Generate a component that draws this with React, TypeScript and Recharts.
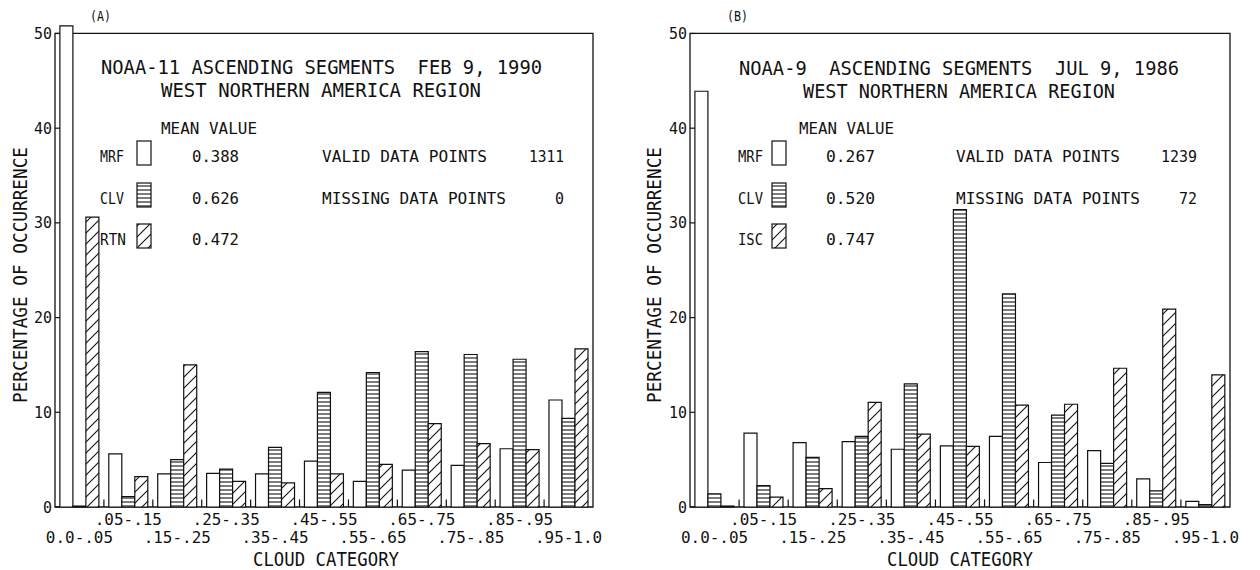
import React from "react";
import { BarChart, Bar, XAxis, YAxis, ReferenceArea } from "recharts";

const categories = [
  "0.0-.05", ".05-.15", ".15-.25", ".25-.35", ".35-.45", ".45-.55",
  ".55-.65", ".65-.75", ".75-.85", ".85-.95", ".95-1.0",
];
const yTicks = [0, 10, 20, 30, 40, 50];

// Panel (A) NOAA-11, FEB 9 1990
const aMRF = [50.8, 5.6, 3.5, 3.55, 3.5, 4.85, 2.7, 3.9, 4.4, 6.15, 11.3];
const aCLV = [0.1, 1.1, 5.0, 4.0, 6.3, 12.1, 14.2, 16.4, 16.1, 15.6, 9.35];
const aRTN = [30.6, 3.2, 15.0, 2.7, 2.55, 3.5, 4.5, 8.8, 6.7, 6.05, 16.7];
const aSeries = ["MRF", "CLV", "RTN"];
const aMeans = ["0.388", "0.626", "0.472"];
const aCounts = ["1311", "0"];

// Panel (B) NOAA-9, JUL 9 1986
const bMRF = [43.9, 7.8, 6.8, 6.9, 6.1, 6.45, 7.45, 4.7, 5.95, 2.98, 0.6];
const bCLV = [1.4, 2.25, 5.25, 7.45, 13.0, 31.4, 22.5, 9.7, 4.6, 1.7, 0.25];
const bISC = [0.1, 1.05, 1.95, 11.05, 7.7, 6.4, 10.75, 10.85, 14.65, 20.9, 13.95];
const bSeries = ["MRF", "CLV", "ISC"];
const bMeans = ["0.267", "0.520", "0.747"];
const bCounts = ["1239", "72"];

const FONT = "'DejaVu Sans Mono', 'Liberation Mono', monospace";
const INK = "#111";
const FILLS = ["#ffffff", "url(#hz)", "url(#dg)"];

function buildData(s1: number[], s2: number[], s3: number[]) {
  return categories.map((c, i) => ({ cat: c, s1: s1[i], s2: s2[i], s3: s3[i] }));
}

const dataA = buildData(aMRF, aCLV, aRTN);
const dataB = buildData(bMRF, bCLV, bISC);

function CatTick(props: any) {
  const { x, y, payload, index } = props;
  const lower = index % 2 === 0;
  const label = String(payload.value);
  return (
    <text
      x={x}
      y={y + (lower ? 36 : 18)}
      textAnchor="middle"
      fontFamily={FONT}
      fontSize={16}
      fill={INK}
      textLength={label.length * 9.6}
      lengthAdjust="spacingAndGlyphs"
    >
      {label}
    </text>
  );
}

function LeftTick(props: any) {
  const { x, y, payload } = props;
  const label = String(payload.value);
  return (
    <g>
      <line x1={x + 3} y1={y} x2={x + 8} y2={y} stroke={INK} strokeWidth={1.2} />
      <text x={x} y={y + 5.5} textAnchor="end" fontFamily={FONT} fontSize={15} fill={INK}
        textLength={label.length * 9} lengthAdjust="spacingAndGlyphs">{label}</text>
    </g>
  );
}

function RightTick(props: any) {
  const { x, y, payload } = props;
  const label = String(payload.value);
  return (
    <g>
      <line x1={x - 3} y1={y} x2={x - 8} y2={y} stroke={INK} strokeWidth={1.2} />
      <text x={x} y={y + 5.5} textAnchor="start" fontFamily={FONT} fontSize={15} fill={INK}
        textLength={label.length * 9} lengthAdjust="spacingAndGlyphs">{label}</text>
    </g>
  );
}

const edgeTick = (p: any) => (
  <line x1={p.x} y1={p.y} x2={p.x} y2={p.y + p.height} stroke={INK} strokeWidth={1.2} />
);

function Panel({ data, margin }: { data: any[]; margin: any }) {
  return (
    <BarChart width={630} height={570} data={data} margin={margin} barCategoryGap="10%" barGap={0}>
      <XAxis dataKey="cat" interval={0} tickLine={false} axisLine={false} tickSize={0} tickMargin={0}
        height={50} tick={(p: any) => <CatTick {...p} />} />
      <YAxis yAxisId="l" domain={[0, 51]} ticks={yTicks} interval={0} width={30}
        axisLine={false} tickLine={false} tickSize={0} tickMargin={3} tick={(p: any) => <LeftTick {...p} />} />
      <YAxis yAxisId="r" orientation="right" domain={[0, 51]} ticks={yTicks} interval={0}
        width={30} axisLine={false} tickLine={false} tickSize={0} tickMargin={3}
        tick={(p: any) => <RightTick {...p} />} />
      <Bar dataKey="s1" yAxisId="l" fill={FILLS[0]} stroke={INK} strokeWidth={1.2} isAnimationActive={false} />
      <Bar dataKey="s2" yAxisId="l" fill={FILLS[1]} stroke={INK} strokeWidth={1.2} isAnimationActive={false} />
      <Bar dataKey="s3" yAxisId="l" fill={FILLS[2]} stroke={INK} strokeWidth={1.2} isAnimationActive={false} />
      <ReferenceArea yAxisId="l" y1={0} y2={50} fill="none" fillOpacity={0} stroke={INK} strokeWidth={1.3}
        ifOverflow="visible" />
      {categories.slice(1).map((c) => (
        <ReferenceArea key={c} yAxisId="l" x1={c} x2={c} y1={0} y2={0.8} ifOverflow="visible" shape={edgeTick} />
      ))}
    </BarChart>
  );
}

type T = { x: number; y: number; t: string; len: number; fs: number };

function Txt({ x, y, t, len, fs }: T) {
  return (
    <text x={x} y={y} fontFamily={FONT} fontSize={fs} fill={INK} textLength={len} lengthAdjust="spacingAndGlyphs"
      xmlSpace="preserve" style={{ whiteSpace: "pre" }}>
      {t}
    </text>
  );
}

function Swatch({ x, y, fill }: { x: number; y: number; fill: string }) {
  return <rect x={x} y={y} width={14} height={24} fill={fill} stroke={INK} strokeWidth={1.2} />;
}

function Annotations() {
  const rows = [162, 204, 245];
  const textsA: T[] = [
    { x: 90, y: 21, t: "(A)", len: 21, fs: 14 },
    { x: 101, y: 74, t: "NOAA-11 ASCENDING SEGMENTS  FEB 9, 1990", len: 441, fs: 20 },
    { x: 161, y: 97, t: "WEST NORTHERN AMERICA REGION", len: 320, fs: 20 },
    { x: 161, y: 134, t: "MEAN VALUE", len: 96, fs: 15 },
    { x: 322, y: rows[0], t: "VALID DATA POINTS", len: 165, fs: 15 },
    { x: 322, y: rows[1], t: "MISSING DATA POINTS", len: 184, fs: 15 },
    { x: 529, y: rows[0], t: aCounts[0], len: 35, fs: 15 },
    { x: 555, y: rows[1], t: aCounts[1], len: 9, fs: 15 },
    { x: 253, y: 566, t: "CLOUD CATEGORY", len: 146, fs: 20 },
  ];
  const textsB: T[] = [
    { x: 727, y: 21, t: "(B)", len: 21, fs: 14 },
    { x: 739, y: 75, t: "NOAA-9  ASCENDING SEGMENTS  JUL 9, 1986", len: 440, fs: 20 },
    { x: 803, y: 98, t: "WEST NORTHERN AMERICA REGION", len: 312, fs: 20 },
    { x: 799, y: 134, t: "MEAN VALUE", len: 95, fs: 15 },
    { x: 956, y: rows[0], t: "VALID DATA POINTS", len: 164, fs: 15 },
    { x: 956, y: rows[1], t: "MISSING DATA POINTS", len: 184, fs: 15 },
    { x: 1161, y: rows[0], t: bCounts[0], len: 36, fs: 15 },
    { x: 1179, y: rows[1], t: bCounts[1], len: 18, fs: 15 },
    { x: 887, y: 566, t: "CLOUD CATEGORY", len: 146, fs: 20 },
  ];
  return (
    <svg width={1260} height={570} style={{ position: "absolute", left: 0, top: 0, pointerEvents: "none" }}>
      {textsA.map((d, i) => <Txt key={"a" + i} {...d} />)}
      {textsB.map((d, i) => <Txt key={"b" + i} {...d} />)}
      {aSeries.map((s, i) => (
        <g key={"la" + i}>
          <Txt x={100} y={rows[i]} t={s} len={s === "RTN" ? 26 : 24} fs={15} />
          <Swatch x={137} y={rows[i] - 21} fill={FILLS[i]} />
          <Txt x={192} y={rows[i]} t={aMeans[i]} len={47} fs={15} />
        </g>
      ))}
      {bSeries.map((s, i) => (
        <g key={"lb" + i}>
          <Txt x={738} y={rows[i]} t={s} len={25} fs={15} />
          <Swatch x={772} y={rows[i] - 21} fill={FILLS[i]} />
          <Txt x={826} y={rows[i]} t={bMeans[i]} len={49} fs={15} />
        </g>
      ))}
      <text x={27} y={275} transform="rotate(-90, 27, 275)" textAnchor="middle" fontFamily={FONT}
        fontSize={19} fill={INK} textLength={256} lengthAdjust="spacingAndGlyphs">PERCENTAGE OF OCCURRENCE</text>
      <text x={661} y={275} transform="rotate(-90, 661, 275)" textAnchor="middle" fontFamily={FONT}
        fontSize={19} fill={INK} textLength={256} lengthAdjust="spacingAndGlyphs">PERCENTAGE OF OCCURRENCE</text>
    </svg>
  );
}

export default function App() {
  return (
    <div style={{ position: "absolute", left: 0, top: 0, width: 1260, height: 570, background: "#fff", overflow: "hidden" }}>
      <svg width={0} height={0} style={{ position: "absolute" }}>
        <defs>
          <pattern id="hz" patternUnits="userSpaceOnUse" width={8} height={4}>
            <rect width={8} height={4} fill="#fff" />
            <line x1={0} y1={2} x2={8} y2={2} stroke={INK} strokeWidth={1.1} />
          </pattern>
          <pattern id="dg" patternUnits="userSpaceOnUse" width={11} height={11}>
            <rect width={11} height={11} fill="#fff" />
            <path d="M0,11 L11,0 M-3,3 L3,-3 M8,14 L14,8" stroke={INK} strokeWidth={1.1} />
          </pattern>
        </defs>
      </svg>
      <div style={{ position: "absolute", left: 0, top: 0 }}>
        <Panel data={dataA} margin={{ top: 24, right: 7, bottom: 13, left: 25 }} />
      </div>
      <div style={{ position: "absolute", left: 630, top: 0 }}>
        <Panel data={dataB} margin={{ top: 24, right: 0, bottom: 13, left: 30 }} />
      </div>
      <Annotations />
    </div>
  );
}
